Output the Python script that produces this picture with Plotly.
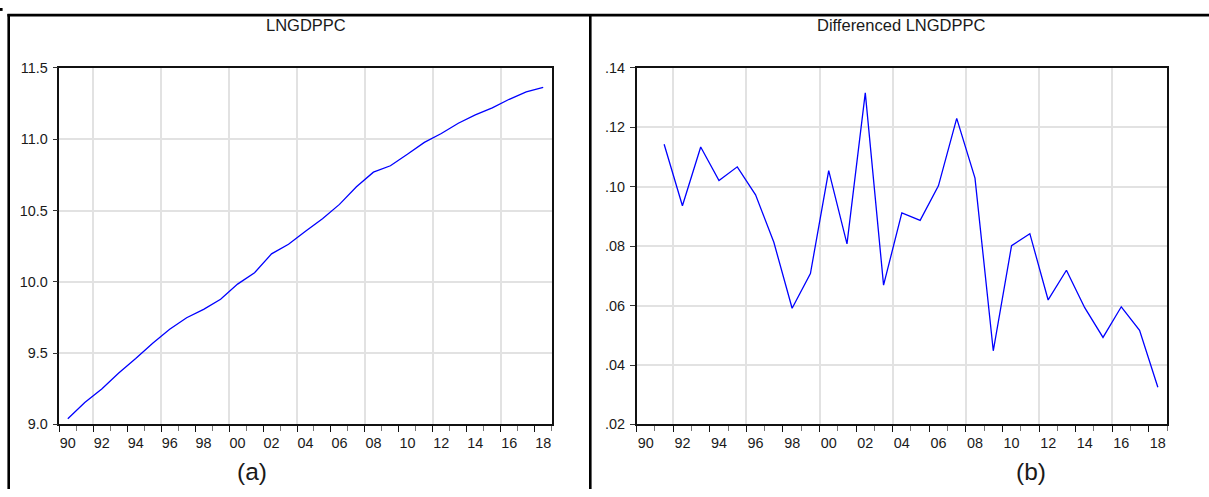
import plotly.graph_objects as go

# ---- data -------------------------------------------------------------
years_level = list(range(1990, 2019))
lngdppc = [9.040, 9.154, 9.248, 9.361, 9.463, 9.570, 9.667, 9.748, 9.807, 9.878,
           9.984, 10.064, 10.196, 10.263, 10.354, 10.443, 10.543, 10.666, 10.769, 10.814,
           10.894, 10.978, 11.040, 11.112, 11.171, 11.220, 11.280, 11.332, 11.364]

years_diff = list(range(1991, 2019))
d_lngdppc = [0.1143, 0.0936, 0.1134, 0.1021, 0.1067, 0.0973, 0.0813, 0.0591, 0.0708,
             0.1054, 0.0808, 0.1316, 0.0669, 0.0912, 0.0887, 0.1003, 0.1230, 0.1029,
             0.0448, 0.0802, 0.0842, 0.0619, 0.0719, 0.0593, 0.0493, 0.0596, 0.0517,
             0.0325]

year_labels = ["90", "92", "94", "96", "98", "00", "02", "04", "06", "08",
               "10", "12", "14", "16", "18"]
left_ticks = [9.0, 9.5, 10.0, 10.5, 11.0, 11.5]
left_tick_text = ["9.0", "9.5", "10.0", "10.5", "11.0", "11.5"]
right_ticks = [0.02, 0.04, 0.06, 0.08, 0.10, 0.12, 0.14]
right_tick_text = [".02", ".04", ".06", ".08", ".10", ".12", ".14"]

titles = ["LNGDPPC", "Differenced LNGDPPC"]
panel_tags = ["(a)", "(b)"]

# ---- page geometry ----------------------------------------------------
W, H = 1209, 497
FONT = "Arial, Liberation Sans, sans-serif"
TXT = "#1a1a1a"
GRID = "#e2e2e2"
LINE = "#0000ff"

# vertical positions in page pixels
Y_FRAME_TOP = 7.4
Y_TITLE = 18.0
Y_PLOT_TOP = 61.9
Y_PLOT_BOTTOM = 430.3
Y_TAG = 479.2
Y_MARK_END = 3.0


def px_x(v):
    return v / W


def px_y(v):
    return 1 - v / H


dom_a = [px_x(59.3), px_x(551.7)]
dom_b = [px_x(636.7), px_x(1167.0)]
dom_y = [px_y(Y_PLOT_BOTTOM), px_y(Y_PLOT_TOP)]

# annual observations are plotted mid-year, ticks mark year boundaries
x_range = [1990, 2019]
major_years = list(range(1990, 2019, 2))
minor_years = list(range(1991, 2020, 2))
grid_years = list(range(1992, 2017, 4))
label_pos = [y + 0.5 for y in major_years]

fig = go.Figure()
fig.add_trace(go.Scatter(x=[y + 0.5 for y in years_level], y=lngdppc, mode="lines",
                         line=dict(color=LINE, width=1.3), xaxis="x", yaxis="y",
                         showlegend=False, hoverinfo="skip"))
fig.add_trace(go.Scatter(x=[y + 0.5 for y in years_diff], y=d_lngdppc, mode="lines",
                         line=dict(color=LINE, width=1.3), xaxis="x2", yaxis="y2",
                         showlegend=False, hoverinfo="skip"))
# empty traces so the year-label axes get their own subplot
for xa, ya in (("x3", "y"), ("x4", "y2")):
    fig.add_trace(go.Scatter(x=[None], y=[None], mode="lines", xaxis=xa, yaxis=ya,
                             showlegend=False, hoverinfo="skip"))


def tick_axis(domain, anchor):
    return dict(domain=domain, anchor=anchor, range=x_range, tickmode="array",
                tickvals=major_years, ticks="outside", ticklen=6, tickwidth=1.2,
                tickcolor="#111111", showticklabels=False, showgrid=False,
                zeroline=False, showline=True, linecolor="#111111", linewidth=1.5,
                mirror=True, fixedrange=True,
                minor=dict(tickmode="array", tickvals=minor_years, ticks="outside",
                           ticklen=5, tickwidth=1.2, tickcolor="#777777",
                           showgrid=False))


def label_axis(base, anchor):
    return dict(overlaying=base, anchor=anchor, side="bottom", range=x_range,
                tickmode="array", tickvals=label_pos, ticktext=year_labels,
                ticks="", showline=False, zeroline=False, showgrid=False,
                tickfont=dict(family=FONT, size=14.4, color=TXT),
                ticklabelstandoff=8, fixedrange=True,
                minor=dict(tickmode="array", tickvals=grid_years, ticks="",
                           showgrid=True, gridcolor=GRID, gridwidth=1.5))


def value_axis(anchor, ticks, text, rng):
    return dict(domain=dom_y, anchor=anchor, range=rng, tickmode="array",
                tickvals=ticks, ticktext=text, ticks="outside", ticklen=5,
                tickwidth=1.2, tickcolor="#333333", showgrid=True, gridcolor=GRID,
                gridwidth=1.5, zeroline=False, showline=True, linecolor="#111111",
                linewidth=1.5, mirror=True, fixedrange=True, ticklabelstandoff=2,
                tickfont=dict(family=FONT, size=14.4, color=TXT))


fig.update_layout(
    width=W, height=H, autosize=False,
    margin=dict(l=0, r=0, t=0, b=0, pad=0),
    paper_bgcolor="white", plot_bgcolor="white",
    showlegend=False,
    xaxis=tick_axis(dom_a, "y"),
    xaxis2=tick_axis(dom_b, "y2"),
    xaxis3=label_axis("x", "y"),
    xaxis4=label_axis("x2", "y2"),
    yaxis=value_axis("x", left_ticks, left_tick_text, [9.0, 11.5]),
    yaxis2=value_axis("x2", right_ticks, right_tick_text, [0.02, 0.14]),
)

# panel titles and tags
for dom, title in zip([dom_a, dom_b], titles):
    fig.add_annotation(text=title, x=(dom[0] + dom[1]) / 2, y=px_y(Y_TITLE),
                       xref="paper", yref="paper", showarrow=False,
                       xanchor="center", yanchor="middle",
                       font=dict(family=FONT, size=16.5, color=TXT))
for cx, tag in zip([252, 1031], panel_tags):
    fig.add_annotation(text=tag, x=px_x(cx), y=px_y(Y_TAG), xref="paper",
                       yref="paper", showarrow=False, xanchor="center",
                       yanchor="middle", font=dict(family=FONT, size=24.5, color=TXT))

# panel frame lines: top rule, left edge and the divider between panels
frame = dict(color="black", width=2.6)
shapes = [
    dict(type="line", xref="paper", yref="paper", x0=px_x(7.4), x1=1.0,
         y0=px_y(Y_FRAME_TOP), y1=px_y(Y_FRAME_TOP), line=frame),
    dict(type="line", xref="paper", yref="paper", x0=px_x(8.7), x1=px_x(8.7),
         y0=px_y(Y_FRAME_TOP - 1.2), y1=0.0, line=frame),
    dict(type="line", xref="paper", yref="paper", x0=px_x(590.3), x1=px_x(590.3),
         y0=px_y(Y_FRAME_TOP - 1.2), y1=0.0, line=frame),
    dict(type="line", xref="paper", yref="paper", x0=px_x(1.3), x1=px_x(1.3),
         y0=1.0, y1=px_y(Y_MARK_END), line=frame),
]
fig.update_layout(shapes=shapes)

fig.write_html("out.html")
